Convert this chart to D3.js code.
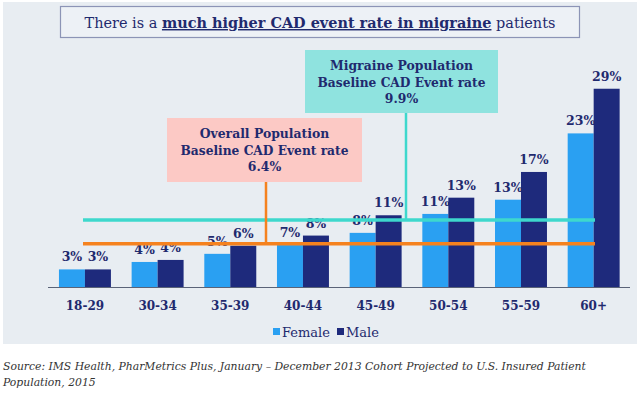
<!DOCTYPE html>
<html>
<head>
<meta charset="utf-8">
<script src="https://cdn.jsdelivr.net/npm/d3@7"></script>
<style>
  html, body { margin: 0; padding: 0; background: #ffffff; }
  svg { display: block; font-family: Georgia, "DejaVu Serif", serif; }
</style>
</head>
<body>
<svg id="chart" width="640" height="393"></svg>
<script>
const CATEGORIES = ["18-29", "30-34", "35-39", "40-44", "45-49", "50-54", "55-59", "60+"];
const FEMALE = [2.6, 3.7, 4.9, 6.2, 8.0, 10.8, 12.9, 22.7];
const MALE = [2.6, 4.0, 6.1, 7.6, 10.6, 13.2, 17.0, 29.3];
const FEMALE_LABELS = ["3%", "4%", "5%", "7%", "8%", "11%", "13%", "23%"];
const MALE_LABELS = ["3%", "4%", "6%", "8%", "11%", "13%", "17%", "29%"];
const SERIES = ["Female", "Male"];
const OVERALL_RATE = 6.4;
const MIGRAINE_RATE = 9.9;
const SOURCE_LINES = [
    "Source: IMS Health, PharMetrics Plus, January \u2013 December 2013 Cohort Projected to U.S. Insured Patient",
    "Population, 2015",
];

const NAVY = "#1f2a6e";
const FEMALE_COLOR = "#2aa0f2";
const MALE_COLOR = "#1e2a7c";
const TEAL = "#3ed8cd";
const ORANGE = "#f5821f";

const svg = d3.select("#chart");

// shrink / grow a text's font size so it covers the wanted width
function fitWidth(sel, width) {
    sel.each(function () {
        const node = this;
        const size = parseFloat(d3.select(node).attr("font-size"));
        const len = node.getComputedTextLength();
        d3.select(node).attr("font-size", (size * width / len).toFixed(2));
    });
}

// panel
svg.append("rect")
    .attr("x", 3).attr("y", 2)
    .attr("width", 634).attr("height", 342)
    .attr("fill", "#e8edf2");

// title box
svg.append("rect")
    .attr("x", 60.5).attr("y", 6.5)
    .attr("width", 519).attr("height", 31)
    .attr("fill", "#edf1f6")
    .attr("stroke", "#8c94b6")
    .attr("stroke-width", 1.2);

const title = svg.append("text")
    .attr("x", 320).attr("y", 28)
    .attr("text-anchor", "middle")
    .attr("font-size", 16)
    .attr("fill", NAVY);
title.append("tspan").text("There is a ");
title.append("tspan")
    .attr("font-weight", "bold")
    .attr("text-decoration", "underline")
    .text("much higher CAD event rate in migraine");
title.append("tspan").text(" patients");
fitWidth(title, 471);

const x = d3.scaleBand()
    .domain(CATEGORIES)
    .range([48.6, 630])
    .paddingInner(0.285)
    .paddingOuter(0.1425);

const xs = d3.scaleBand()
    .domain(SERIES)
    .range([0, x.bandwidth()]);

const y = d3.scaleLinear()
    .domain([0, 30])
    .range([287, 84]);

const color = d3.scaleOrdinal().domain(SERIES).range([FEMALE_COLOR, MALE_COLOR]);

const rows = CATEGORIES.map((c, i) => ({
    cat: c,
    values: [
        { key: "Female", value: FEMALE[i], label: FEMALE_LABELS[i] },
        { key: "Male", value: MALE[i], label: MALE_LABELS[i] },
    ],
}));

const groups = svg.selectAll(".group")
    .data(rows)
    .enter()
    .append("g")
    .attr("class", "group")
    .attr("transform", (d) => `translate(${x(d.cat)},0)`);

groups.selectAll("rect")
    .data((d) => d.values)
    .enter()
    .append("rect")
    .attr("x", (d) => xs(d.key))
    .attr("y", (d) => y(d.value))
    .attr("width", xs.bandwidth())
    .attr("height", (d) => y(0) - y(d.value))
    .attr("fill", (d) => color(d.key));

// baseline axis
svg.append("line")
    .attr("x1", 48).attr("x2", 630)
    .attr("y1", y(0) + 0.5).attr("y2", y(0) + 0.5)
    .attr("stroke", "#5a6378")
    .attr("stroke-width", 1);

svg.selectAll(".cat-label")
    .data(CATEGORIES)
    .enter()
    .append("text")
    .attr("class", "cat-label")
    .attr("x", (d) => x(d) + x.bandwidth() / 2)
    .attr("y", 310)
    .attr("text-anchor", "middle")
    .attr("font-size", 12)
    .attr("font-weight", "bold")
    .attr("fill", NAVY)
    .text((d) => d);

// reference lines
const lineX1 = 83;
const lineX2 = 595;

svg.append("line")
    .attr("x1", lineX1).attr("x2", lineX2)
    .attr("y1", y(MIGRAINE_RATE)).attr("y2", y(MIGRAINE_RATE))
    .attr("stroke", TEAL)
    .attr("stroke-width", 3.5);

svg.append("line")
    .attr("x1", lineX1).attr("x2", lineX2)
    .attr("y1", y(OVERALL_RATE)).attr("y2", y(OVERALL_RATE))
    .attr("stroke", ORANGE)
    .attr("stroke-width", 3.5);

// callout boxes
function callout(box, lines, fill, stroke, stemX, rate) {
    svg.append("line")
        .attr("x1", stemX).attr("x2", stemX)
        .attr("y1", box.y + box.h).attr("y2", y(rate))
        .attr("stroke", stroke)
        .attr("stroke-width", 2.5);

    svg.append("rect")
        .attr("x", box.x).attr("y", box.y)
        .attr("width", box.w).attr("height", box.h)
        .attr("fill", fill);

    const cx = box.x + box.w / 2;
    lines.forEach((t, i) => {
        const txt = svg.append("text")
            .attr("x", cx)
            .attr("y", box.y + 20 + i * 16.5)
            .attr("text-anchor", "middle")
            .attr("font-size", 13)
            .attr("font-weight", "bold")
            .attr("fill", NAVY)
            .text(t);
        if (i === 1) fitWidth(txt, 168);
        else txt.attr("font-size", 12.4);
    });
}

callout({ x: 305, y: 50, w: 193, h: 63 },
    ["Migraine Population", "Baseline CAD Event rate", MIGRAINE_RATE.toFixed(1) + "%"],
    "#8fe3df", TEAL, 406, MIGRAINE_RATE);

callout({ x: 167, y: 118, w: 195, h: 64 },
    ["Overall Population", "Baseline CAD Event rate", OVERALL_RATE.toFixed(1) + "%"],
    "#fcc9c5", ORANGE, 266, OVERALL_RATE);

// data labels on top of everything
groups.selectAll(".val-label")
    .data((d) => d.values)
    .enter()
    .append("text")
    .attr("class", "val-label")
    .attr("x", (d) => xs(d.key) + xs.bandwidth() / 2)
    .attr("y", (d) => y(d.value) - 8)
    .attr("text-anchor", "middle")
    .attr("font-size", 12.5)
    .attr("font-weight", "bold")
    .attr("fill", NAVY)
    .text((d) => d.label);

// legend
const legend = svg.append("g").attr("transform", "translate(273,0)");
const legendItems = [
    { key: "Female", x: 0 },
    { key: "Male", x: 64 },
];
legendItems.forEach((d) => {
    legend.append("rect")
        .attr("x", d.x).attr("y", 328)
        .attr("width", 7).attr("height", 7)
        .attr("fill", color(d.key));
    legend.append("text")
        .attr("x", d.x + 9).attr("y", 336.5)
        .attr("font-size", 13)
        .attr("fill", NAVY)
        .text(d.key);
});

// source note
const srcText = svg.selectAll(".source")
    .data(SOURCE_LINES)
    .enter()
    .append("text")
    .attr("class", "source")
    .attr("x", 3)
    .attr("y", (_d, i) => 370 + i * 15.5)
    .attr("font-size", 12)
    .attr("font-style", "italic")
    .attr("fill", "#333333")
    .text((d) => d);
fitWidth(srcText.filter((_d, i) => i === 0), 583);
srcText.filter((_d, i) => i === 1)
    .attr("font-size", svg.select(".source").attr("font-size"));
</script>
</body>
</html>
